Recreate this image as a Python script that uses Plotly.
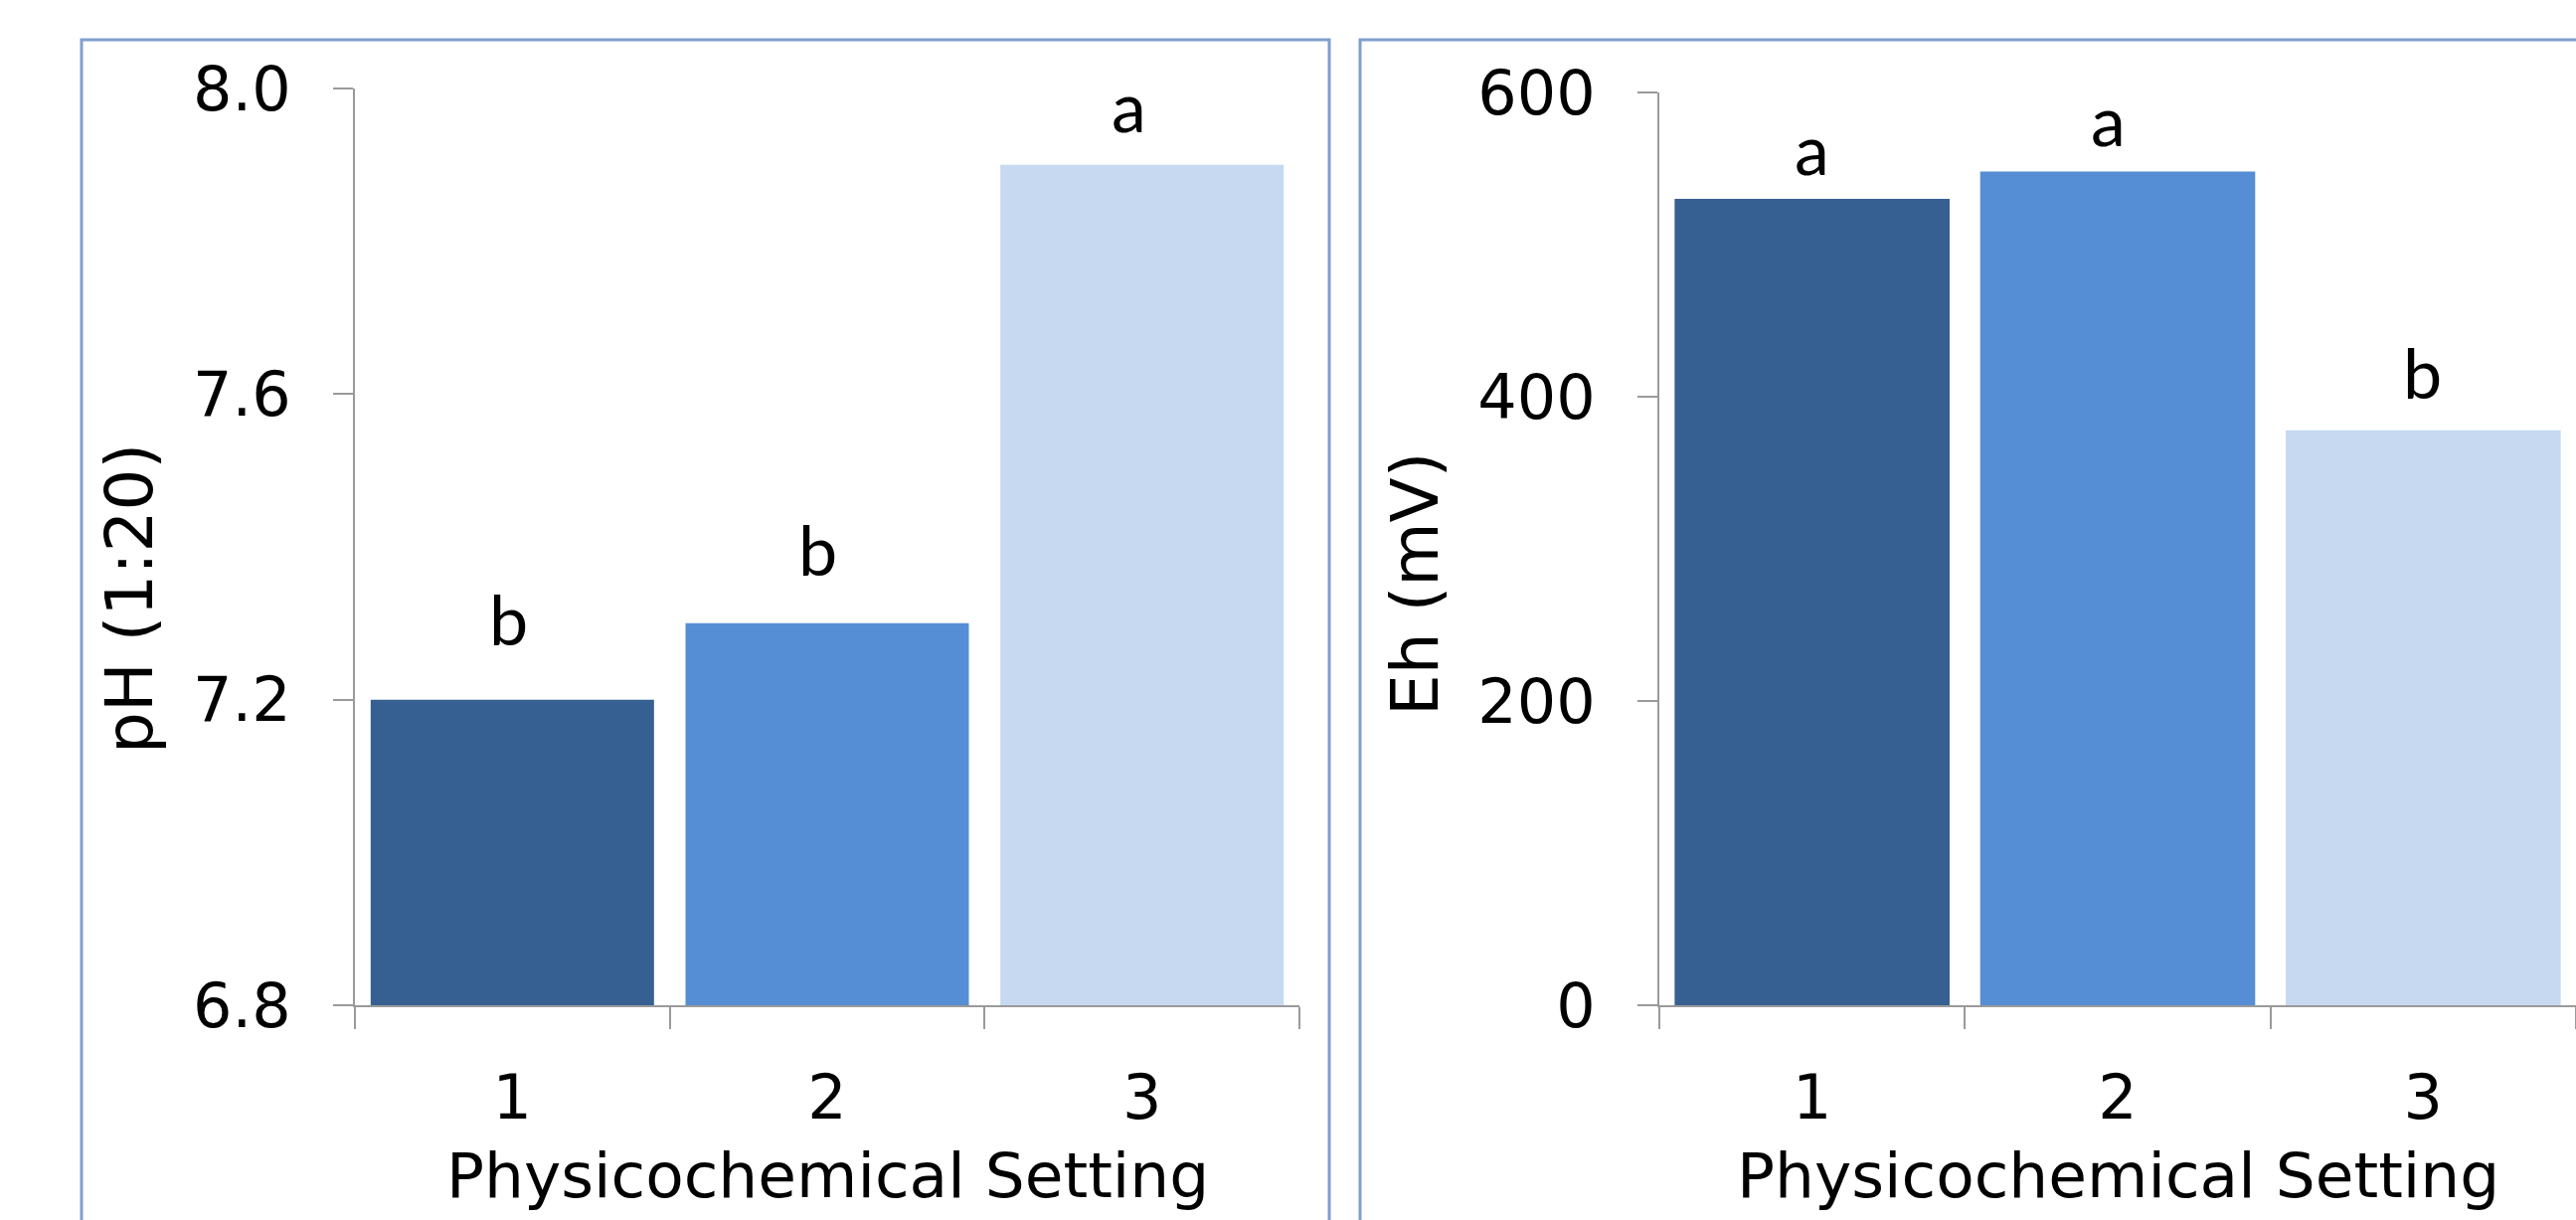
import plotly.graph_objects as go

# Data
settings = ["1", "2", "3"]
ph_values = [7.2, 7.3, 7.9]
ph_letters = ["b", "b", "a"]
eh_values = [530, 548, 378]
eh_letters = ["a", "a", "b"]
ph_ticks = [6.8, 7.2, 7.6, 8.0]
ph_ticktext = ["6.8", "7.2", "7.6", "8.0"]
eh_ticks = [0, 200, 400, 600]

bar_colors = ["#376092", "#558ED5", "#C6D9F1"]

W, H = 2591, 1227
FONT = "DejaVu Sans"
AXIS_GREY = "#9A9A9A"


def px(x):
    return x / W


def py(y):
    return (H - y) / H


fig = go.Figure()
fig.add_trace(go.Bar(x=settings, y=ph_values, marker_color=bar_colors,
                     marker_line_width=0, xaxis="x", yaxis="y"))
fig.add_trace(go.Bar(x=settings, y=eh_values, marker_color=bar_colors,
                     marker_line_width=0, xaxis="x2", yaxis="y2"))

xaxis_common = dict(
    type="category", range=[-0.5, 2.5], automargin=False,
    showline=True, linecolor=AXIS_GREY, linewidth=2,
    ticks="outside", tickson="boundaries", ticklen=22, tickwidth=2,
    tickcolor=AXIS_GREY, showgrid=False, zeroline=False,
    tickfont=dict(family=FONT, size=62, color="black"),
    ticklabelstandoff=38, fixedrange=True,
)
yaxis_common = dict(
    automargin=False, showline=True, linecolor=AXIS_GREY, linewidth=2,
    ticks="outside", ticklen=20, tickwidth=2, tickcolor=AXIS_GREY,
    showgrid=False, zeroline=False,
    tickfont=dict(family=FONT, size=62, color="black"),
    ticklabelstandoff=30, fixedrange=True,
)

fig.update_layout(
    template="none",
    width=W, height=H,
    margin=dict(l=0, r=0, t=0, b=0, autoexpand=False),
    paper_bgcolor="white", plot_bgcolor="white",
    showlegend=False, bargap=0.1,
    xaxis=dict(domain=[px(357), px(1307)], anchor="y", **xaxis_common),
    yaxis=dict(domain=[py(1011), py(89)], anchor="x", range=[6.8, 8.0],
               tickvals=ph_ticks, ticktext=ph_ticktext, **yaxis_common),
    xaxis2=dict(domain=[px(1669), 1.0], anchor="y2", **xaxis_common),
    yaxis2=dict(domain=[py(1011), py(93)], anchor="x2", range=[0, 600],
                tickvals=eh_ticks, **yaxis_common),
)

# Panel frames
frame = dict(type="rect", xref="paper", yref="paper",
             line=dict(color="#7F9FCF", width=3), fillcolor="rgba(0,0,0,0)",
             layer="below")
fig.add_shape(x0=px(82), x1=px(1337), y0=py(40), y1=py(1260), **frame)
fig.add_shape(x0=px(1368), x1=px(2640), y0=py(40), y1=py(1260), **frame)

# Significance letters above the bars (x given as category index)
letter_font = dict(family="Lato", size=70, color="black")
ph_shift = [38, 31, 16]
eh_shift = [7, 9, 15]
ph_xshift = [-4, -10, -13]
eh_xshift = [0, -10, -1]
for i, (v, t) in enumerate(zip(ph_values, ph_letters)):
    fig.add_annotation(x=i, y=v, xref="x", yref="y", text=t, showarrow=False,
                       yanchor="bottom", yshift=ph_shift[i], xshift=ph_xshift[i],
                       font=letter_font)
for i, (v, t) in enumerate(zip(eh_values, eh_letters)):
    fig.add_annotation(x=i, y=v, xref="x2", yref="y2", text=t, showarrow=False,
                       yanchor="bottom", yshift=eh_shift[i], xshift=eh_xshift[i],
                       font=letter_font)

# Axis titles
ytitle_font = dict(family=FONT, size=66, color="black")
xtitle_font = dict(family=FONT, size=63, color="black")
fig.add_annotation(x=px(130), y=py(602), xref="paper", yref="paper",
                   text="pH (1:20)", textangle=-90, showarrow=False,
                   xanchor="center", yanchor="middle", font=ytitle_font)
fig.add_annotation(x=px(1423), y=py(588), xref="paper", yref="paper",
                   text="Eh (mV)", textangle=-90, showarrow=False,
                   xanchor="center", yanchor="middle", font=ytitle_font)
fig.add_annotation(x=px(832), y=py(1182), xref="paper", yref="paper",
                   text="Physicochemical Setting", showarrow=False,
                   xanchor="center", yanchor="middle", font=xtitle_font)
fig.add_annotation(x=px(2130), y=py(1182), xref="paper", yref="paper",
                   text="Physicochemical Setting", showarrow=False,
                   xanchor="center", yanchor="middle", font=xtitle_font)

fig.write_html("out.html")
